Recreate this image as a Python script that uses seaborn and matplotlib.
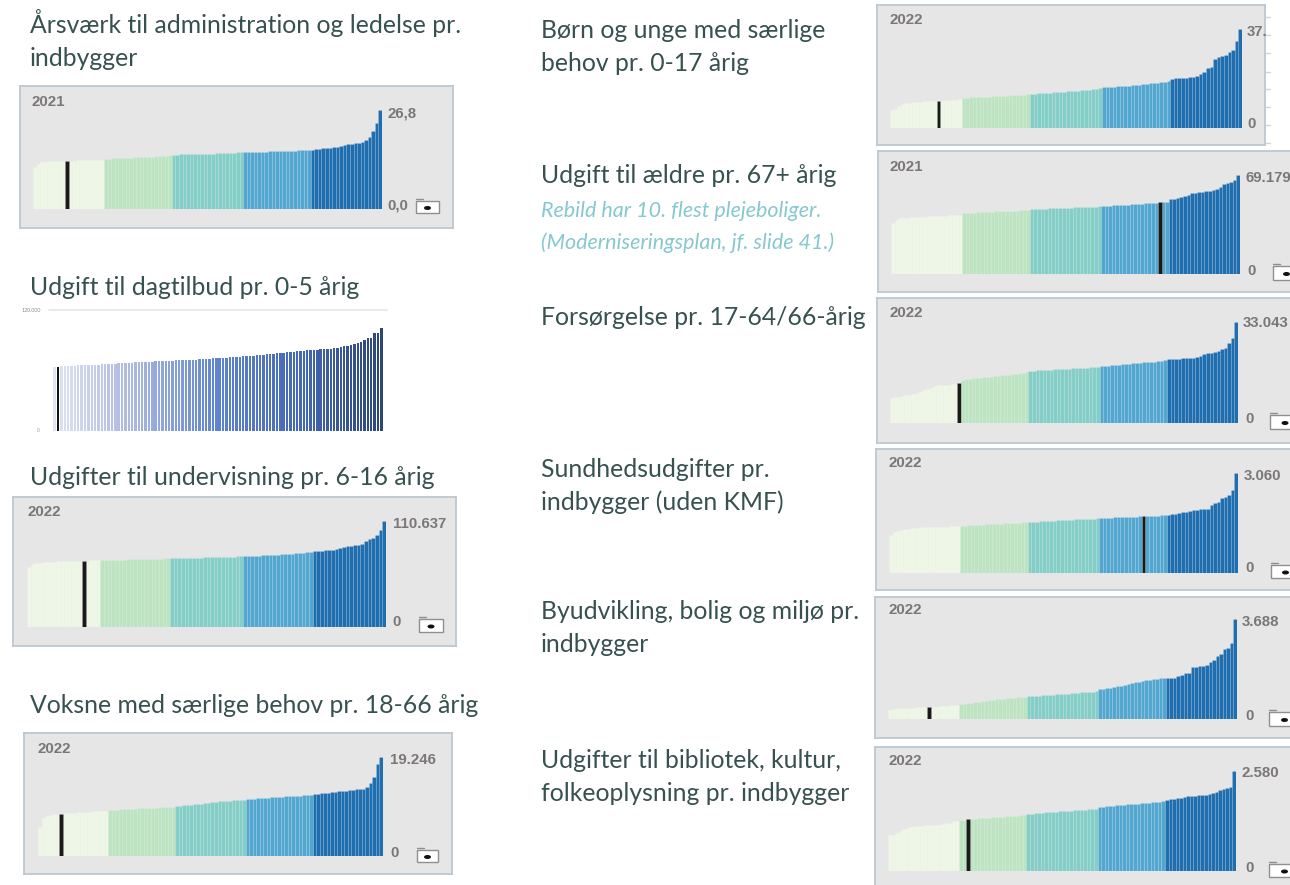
import matplotlib
matplotlib.use("Agg")
import matplotlib.pyplot as plt
from matplotlib.patches import Rectangle, Ellipse
from matplotlib.lines import Line2D
import pandas as pd
import seaborn as sns

# ---------------------------------------------------------------------------
# Data: one sorted value per municipality (98), Rebild's position in the ranking
# ---------------------------------------------------------------------------
GROUP_SIZES = [20, 19, 20, 19, 20]

adm_values = [
    11.5, 12.3, 12.7, 12.8, 12.9, 12.9, 13.0, 13.0, 13.0, 13.1, 13.1, 13.1, 13.2, 13.2, 13.2, 13.3, 13.3, 13.3, 13.4, 13.4,
    13.5, 13.6, 13.7, 13.7, 13.8, 13.8, 13.9, 13.9, 14.0, 14.0, 14.1, 14.1, 14.2, 14.2, 14.3, 14.3, 14.4, 14.4, 14.5,
    14.7, 14.7, 14.8, 14.8, 14.8, 14.9, 14.9, 14.9, 15.0, 15.0, 15.0, 15.0, 15.1, 15.1, 15.1, 15.2, 15.2, 15.2, 15.3, 15.3,
    15.3, 15.4, 15.4, 15.4, 15.5, 15.5, 15.5, 15.6, 15.6, 15.6, 15.7, 15.7, 15.7, 15.8, 15.8, 15.9, 15.9, 16.0, 16.0,
    16.1, 16.2, 16.3, 16.4, 16.5, 16.6, 16.7, 16.8, 17.0, 17.3, 17.6, 17.7, 17.9, 18.0, 18.1, 18.6, 19.5, 21.2, 23.3, 26.8,
]
adm_rebild = 9

dagtilbud_values = [
    63500, 63600, 64000, 64200, 64400, 64600, 64800, 65000, 65200, 65400,
    65600, 65700, 65800, 65900, 66100, 66300, 66500, 66700, 66900, 67100,
    67300, 67500, 67700, 67900, 68100, 68300, 68400, 68600, 68800, 68900,
    69100, 69300, 69400, 69600, 69800, 69900, 70000, 70200, 70300, 70500,
    70600, 70800, 70900, 71100, 71300, 71500, 71700, 72000, 72200, 72400,
    72600, 72800, 72900, 73000, 73300, 73600, 73900, 74200, 74500, 74800,
    75100, 75400, 75700, 76000, 76300, 76600, 76900, 77200, 77500, 77900,
    78200, 78500, 78900, 79300, 79600, 79900, 80200, 80500, 80800, 81000,
    81200, 81500, 81800, 82000, 82500, 83200, 83900, 84600, 85300, 86400,
    87500, 88600, 90200, 91900, 92200, 96800, 97200, 101800,
]
dagtilbud_rebild = 1

undervisning_values = [
    62600, 65500, 66800, 67300, 67600, 67900, 68100, 68300, 68500, 68600, 68800, 68900, 69000, 69100, 69200, 69300, 69400, 69500, 69600, 69700,
    69800, 69900, 70000, 70100, 70200, 70300, 70400, 70500, 70600, 70700, 70800, 70900, 71000, 71100, 71200, 71300, 71400, 71500, 71600,
    71700, 71800, 71900, 72000, 72100, 72200, 72300, 72400, 72500, 72600, 72700, 72800, 72900, 73000, 73100, 73200, 73300, 73400, 73600, 73800,
    73900, 74000, 74200, 74400, 74600, 74800, 75000, 75200, 75400, 75600, 75800, 76000, 76300, 76600, 76900, 77200, 77500, 77900, 78300,
    79000, 79300, 79600, 79900, 80200, 80600, 81200, 82800, 83500, 84300, 84800, 85300, 86100, 87000, 89500, 92200, 93400, 95800, 100900, 110637,
]
undervisning_rebild = 15

voksne_values = [
    5700, 7350, 7700, 7950, 8100, 8200, 8250, 8300, 8350, 8400, 8450, 8500, 8550, 8600, 8650, 8700, 8720, 8750, 8800, 8840,
    8950, 8990, 9020, 9060, 9100, 9130, 9170, 9200, 9240, 9270, 9310, 9340, 9380, 9410, 9450, 9490, 9520, 9560, 9600,
    9750, 9800, 9860, 9920, 9980, 10050, 10120, 10200, 10280, 10360, 10440, 10520, 10600, 10660, 10720, 10770, 10820, 10860, 10890, 10920,
    11000, 11060, 11120, 11180, 11240, 11290, 11340, 11390, 11440, 11490, 11540, 11590, 11630, 11670, 11710, 11750, 11790, 11830, 11870,
    12030, 12100, 12170, 12240, 12320, 12400, 12480, 12560, 12640, 12720, 12800, 12880, 12960, 13040, 13120, 13400, 14200, 15400, 17900, 19246,
]
voksne_rebild = 6

boern_values = [
    6700, 7300, 8200, 9000, 9400, 9600, 9750, 9850, 9950, 10000, 10050, 10100, 10150, 10250, 10350, 10450, 10550, 10600, 10700, 10750,
    11400, 11450, 11500, 11550, 11600, 11700, 11800, 11850, 11900, 12000, 12050, 12100, 12200, 12250, 12300, 12400, 12450, 12550, 12650,
    12800, 12900, 13000, 13100, 13200, 13300, 13400, 13500, 13600, 13700, 13800, 13900, 14000, 14100, 14200, 14300, 14450, 14600, 14750, 14900,
    15300, 15400, 15500, 15600, 15700, 15800, 15900, 16000, 16100, 16200, 16350, 16500, 16650, 16800, 16950, 17100, 17300, 17500, 17700,
    18450, 18700, 18750, 18800, 18900, 19100, 19300, 19600, 20300, 21200, 22500, 23100, 25900, 26800, 27000, 27600, 28500, 29500, 32600, 37300,
]
boern_rebild = 13

aeldre_values = [
    35500, 37800, 38900, 39200, 39400, 39600, 39800, 39900, 40000, 40100, 40200, 40300, 40400, 40500, 40600, 40750, 40900, 41000, 41150, 41300,
    42500, 42650, 42800, 42950, 43100, 43250, 43400, 43500, 43600, 43700, 43800, 43900, 44000, 44100, 44200, 44350, 44500, 44650, 44800,
    45300, 45400, 45500, 45600, 45700, 45800, 45900, 46000, 46100, 46200, 46300, 46400, 46500, 46600, 46700, 46800, 46900, 47000, 47100, 47200,
    47500, 47650, 47800, 47950, 48100, 48250, 48400, 48550, 48700, 48850, 49000, 49150, 49300, 49450, 49600, 49800, 50150, 50350, 50600,
    52300, 52600, 53000, 53600, 54500, 55500, 56400, 56800, 57100, 57400, 57700, 58300, 58800, 59600, 60700, 62900, 63700, 64100, 65900, 69179,
]
aeldre_rebild = 75

forsorgelse_values = [
    8100, 8400, 8500, 8800, 9000, 9300, 9600, 9900, 10300, 10800, 11200, 11600, 12200, 12400, 12450, 12500, 12550, 12600, 12700, 13200,
    14100, 14300, 14500, 14600, 14700, 14850, 15000, 15100, 15200, 15300, 15450, 15600, 15700, 15800, 15950, 16100, 16300, 16500, 16800,
    17000, 17100, 17200, 17300, 17350, 17400, 17500, 17550, 17600, 17700, 17750, 17800, 17900, 17950, 18000, 18100, 18150, 18200, 18300, 18400,
    18600, 18700, 18800, 18900, 19000, 19100, 19200, 19300, 19400, 19500, 19600, 19700, 19800, 19900, 20000, 20100, 20250, 20400, 20550,
    20800, 20900, 21000, 21100, 21200, 21300, 21350, 21400, 21450, 22000, 22700, 22800, 23000, 23300, 23600, 24050, 24700, 26200, 27950, 33043,
]
forsorgelse_rebild = 19

sundhed_values = [
    1150, 1250, 1300, 1320, 1340, 1360, 1370, 1380, 1390, 1395, 1400, 1405, 1410, 1412, 1415, 1418, 1420, 1423, 1426, 1430,
    1445, 1450, 1456, 1462, 1468, 1474, 1480, 1486, 1492, 1498, 1504, 1510, 1516, 1522, 1528, 1534, 1540, 1548, 1556,
    1565, 1570, 1575, 1580, 1586, 1592, 1598, 1604, 1610, 1616, 1622, 1628, 1634, 1640, 1646, 1652, 1657, 1662, 1666, 1670,
    1680, 1685, 1690, 1695, 1700, 1705, 1710, 1714, 1718, 1722, 1726, 1730, 1735, 1740, 1746, 1752, 1758, 1764, 1770,
    1790, 1805, 1820, 1835, 1860, 1875, 1905, 1920, 1935, 1950, 1960, 1970, 2070, 2140, 2165, 2300, 2320, 2380, 2530, 3060,
]
sundhed_rebild = 71

byudvikling_values = [
    320, 370, 390, 400, 405, 410, 415, 420, 425, 430, 435, 443, 450, 460, 470, 480, 490, 500, 515, 530,
    560, 570, 585, 600, 620, 640, 660, 680, 700, 715, 730, 745, 755, 765, 775, 785, 795, 805, 815,
    830, 840, 850, 860, 870, 880, 890, 900, 910, 920, 930, 940, 950, 960, 970, 980, 990, 1000, 1010, 1020,
    1100, 1120, 1140, 1160, 1180, 1200, 1230, 1260, 1290, 1320, 1350, 1380, 1400, 1420, 1440, 1460, 1480, 1495, 1510,
    1515, 1520, 1530, 1600, 1620, 1690, 1700, 1920, 1930, 1940, 1950, 2000, 2090, 2190, 2310, 2410, 2580, 2620, 2800, 3688,
]
byudvikling_rebild = 11

kultur_values = [
    930, 935, 990, 1040, 1075, 1120, 1130, 1155, 1160, 1165, 1175, 1180, 1185, 1190, 1195, 1220, 1235, 1245, 1290, 1300,
    1320, 1328, 1335, 1342, 1350, 1357, 1364, 1371, 1378, 1385, 1392, 1398, 1404, 1410, 1416, 1422, 1428, 1436, 1445,
    1470, 1478, 1486, 1494, 1502, 1510, 1518, 1525, 1532, 1539, 1546, 1553, 1560, 1566, 1572, 1578, 1584, 1590, 1596, 1602,
    1650, 1660, 1668, 1676, 1684, 1692, 1700, 1708, 1716, 1724, 1732, 1740, 1748, 1756, 1764, 1772, 1780, 1788, 1796,
    1830, 1845, 1860, 1875, 1890, 1915, 1925, 1940, 1945, 1950, 1955, 1970, 1980, 2010, 2045, 2090, 2110, 2130, 2160, 2580,
]
kultur_rebild = 22

# ---------------------------------------------------------------------------
# Styling
# ---------------------------------------------------------------------------
sns.set_style("white")
plt.rcParams["font.family"] = ["Lato", "DejaVu Sans"]

QUINTILE_PALETTE = {
    "Q1": "#eef6e5", "Q2": "#bde4c1", "Q3": "#83cec6", "Q4": "#52a7d1", "Q5": "#1f6fb0",
    "Rebild": "#1a1a1a",
}
PANEL_BG = "#e6e6e6"
PANEL_EDGE = "#bcc7d0"
TITLE_COLOR = "#36514f"
NOTE_COLOR = "#86c8cf"
LABEL_COLOR = "#7b7777"
TITLE_SIZE = 17.8
LABEL_FONT = ["Liberation Sans", "DejaVu Sans"]

W, H = 1290, 885
fig = plt.figure(figsize=(W / 100, H / 100), dpi=100)
fig.patch.set_facecolor("white")


def rect(x0, y0, x1, y1):
    """Pixel box (top-left origin) -> figure fraction [left, bottom, width, height]."""
    return [x0 / W, 1 - y1 / H, (x1 - x0) / W, (y1 - y0) / H]


def ftext(x, y, s, **kw):
    return fig.text(x / W, 1 - y / H, s, **kw)


def title(x, y, lines, **kw):
    for i, line in enumerate(lines):
        ftext(x, y + i * 33, line, color=TITLE_COLOR, fontsize=TITLE_SIZE,
              va="baseline", ha="left", **kw)


def small_label(x, y, s):
    ftext(x, y, s, fontsize=10.8, fontweight="bold", color=LABEL_COLOR,
          family=LABEL_FONT, va="center", ha="left")


def draw_icon(x0, y0, x1, y1):
    tf = fig.transFigure
    fig.add_artist(Rectangle((x0 / W, 1 - y1 / H), (x1 - x0) / W, (y1 - y0) / H,
                             transform=tf, facecolor="white", edgecolor="#8f8f8f", lw=1.0))
    fig.add_artist(Line2D([x0 / W, (x0 + 7) / W], [1 - (y0 - 2) / H] * 2,
                          transform=tf, color="#8f8f8f", lw=1.0))
    cx, cy = (x0 + x1) / 2, (y0 + y1) / 2 + 1
    fig.add_artist(Ellipse((cx / W, 1 - cy / H), 7 / W, 4 / H, transform=tf,
                           facecolor="#111111", edgecolor="none"))


def quintile_labels(n, rebild):
    labels = []
    for q, size in enumerate(GROUP_SIZES):
        labels += [f"Q{q + 1}"] * size
    labels = labels[:n]
    labels[rebild] = "Rebild"
    return labels


def quintile_panel(values, rebild, year, top_label, zero_label,
                   frame, bars, year_xy, top_xy, zero_xy, icon=None):
    fa = fig.add_axes(rect(*frame))
    fa.set_facecolor(PANEL_BG)
    for sp in fa.spines.values():
        sp.set_color(PANEL_EDGE)
        sp.set_linewidth(1.3)
    fa.set_xticks([])
    fa.set_yticks([])

    x0, top, x1, bottom = bars
    ax = fig.add_axes(rect(x0, top, x1, bottom))
    df = pd.DataFrame({"pos": range(len(values)), "value": values,
                       "group": quintile_labels(len(values), rebild)})
    sns.barplot(data=df, x="pos", y="value", hue="group", palette=QUINTILE_PALETTE,
                dodge=False, width=1.0, saturation=1, linewidth=0.4,
                edgecolor=(1, 1, 1, 0.18), legend=False, ax=ax)
    ax.set_xlim(-0.5, len(values) - 0.5)
    ax.set_ylim(0, max(values))
    ax.axis("off")

    small_label(*year_xy, year)
    small_label(*top_xy, top_label)
    small_label(*zero_xy, zero_label)
    if icon is not None:
        draw_icon(*icon)


# ---------------------------------------------------------------------------
# Left column
# ---------------------------------------------------------------------------
title(30, 33, ["Årsværk til administration og ledelse pr.", "indbygger"])
quintile_panel(adm_values, adm_rebild, "2021", "26,8", "0,0",
               frame=(20, 86, 453, 228), bars=(33, 110, 382, 209),
               year_xy=(32, 102), top_xy=(387, 113), zero_xy=(387, 205),
               icon=(416, 201, 439, 213))

title(30, 295, ["Udgift til dagtilbud pr. 0-5 årig"])
ax_dag = fig.add_axes(rect(49, 310, 387, 431))
n_dag = len(dagtilbud_values)
dag_colors = sns.blend_palette(["#dfe3f3", "#a7b5e0", "#5e84d0", "#4468b5", "#2c4679"], n_dag)
dag_colors[dagtilbud_rebild] = (0.08, 0.08, 0.08)
df_dag = pd.DataFrame({"pos": range(n_dag), "value": dagtilbud_values,
                       "bar": [str(i) for i in range(n_dag)]})
sns.barplot(data=df_dag, x="pos", y="value", hue="bar", palette=dag_colors,
            dodge=False, width=0.72, saturation=1, linewidth=0, legend=False, ax=ax_dag)
pad = (n_dag / (383 - 53)) * 4
ax_dag.set_xlim(-0.5 - pad, n_dag - 0.5 + pad)
ax_dag.set_ylim(0, 120000)
ax_dag.axhline(120000, color="#e6e6e6", lw=1.2, clip_on=False)
ax_dag.axis("off")
ftext(22, 310, "120.000", fontsize=3.8, color="#8a8a8a", va="center", ha="left")
ftext(37, 431, "0", fontsize=3.5, color="#9a9a9a", va="center", ha="left")

title(30, 485, ["Udgifter til undervisning pr. 6-16 årig"])
quintile_panel(undervisning_values, undervisning_rebild, "2022", "110.637", "0",
               frame=(13, 497, 456, 646), bars=(27, 521, 386, 627),
               year_xy=(27, 512), top_xy=(393, 524), zero_xy=(392, 622),
               icon=(419, 619, 443, 632))

title(30, 713, ["Voksne med særlige behov pr. 18-66 årig"])
quintile_panel(voksne_values, voksne_rebild, "2022", "19.246", "0",
               frame=(24, 733, 452, 874), bars=(38, 757, 383, 856),
               year_xy=(37, 749), top_xy=(390, 760), zero_xy=(390, 853),
               icon=(417, 850, 438, 862))

# ---------------------------------------------------------------------------
# Right column
# ---------------------------------------------------------------------------
title(541, 38, ["Børn og unge med særlige", "behov pr. 0-17 årig"])
quintile_panel(boern_values, boern_rebild, "2022", "37.", "0",
               frame=(877, 5, 1265, 145), bars=(890, 29, 1242, 128),
               year_xy=(890, 20), top_xy=(1247, 32), zero_xy=(1247, 124))
for ty in [17, 35, 53, 72, 89, 107, 125, 143]:
    fig.add_artist(Line2D([1266 / W, 1270 / W], [1 - ty / H] * 2,
                          transform=fig.transFigure, color="#d4d4d4", lw=1))

title(541, 183, ["Udgift til ældre pr. 67+ årig"])
ftext(541, 217, "Rebild har 10. flest plejeboliger.", color=NOTE_COLOR, fontsize=15.5,
      style="italic", va="baseline", ha="left")
ftext(541, 249, "(Moderniseringsplan, jf. slide 41.)", color=NOTE_COLOR, fontsize=15.5,
      style="italic", va="baseline", ha="left")
quintile_panel(aeldre_values, aeldre_rebild, "2021", "69.179", "0",
               frame=(878, 151, 1300, 292), bars=(891, 175, 1240, 274),
               year_xy=(890, 167), top_xy=(1245, 178), zero_xy=(1247, 271),
               icon=(1273, 266, 1300, 280))

title(541, 325, ["Forsørgelse pr. 17-64/66-årig"])
quintile_panel(forsorgelse_values, forsorgelse_rebild, "2022", "33.043", "0",
               frame=(877, 298, 1300, 443), bars=(890, 322, 1238, 423),
               year_xy=(889, 313), top_xy=(1243, 323), zero_xy=(1245, 419),
               icon=(1270, 415, 1300, 429))

title(541, 477, ["Sundhedsudgifter pr.", "indbygger (uden KMF)"])
quintile_panel(sundhed_values, sundhed_rebild, "2022", "3.060", "0",
               frame=(876, 449, 1300, 590), bars=(889, 473, 1238, 573),
               year_xy=(888, 463), top_xy=(1244, 476), zero_xy=(1245, 568),
               icon=(1271, 565, 1300, 578))

title(541, 619, ["Byudvikling, bolig og miljø pr.", "indbygger"])
quintile_panel(byudvikling_values, byudvikling_rebild, "2022", "3.688", "0",
               frame=(875, 597, 1300, 738), bars=(888, 619, 1237, 719),
               year_xy=(888, 610), top_xy=(1242, 622), zero_xy=(1245, 716),
               icon=(1269, 712, 1300, 726))

title(541, 768, ["Udgifter til bibliotek, kultur,", "folkeoplysning pr. indbygger"])
quintile_panel(kultur_values, kultur_rebild, "2022", "2.580", "0",
               frame=(875, 747, 1300, 895), bars=(888, 771, 1236, 871),
               year_xy=(888, 761), top_xy=(1242, 773), zero_xy=(1245, 868),
               icon=(1269, 864, 1300, 877))

fig.savefig("out.png", dpi=100, facecolor="white")
